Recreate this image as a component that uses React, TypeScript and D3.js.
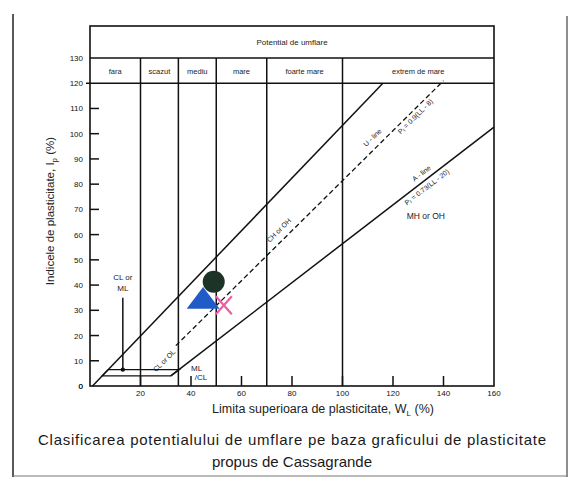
import React from "react";
import * as d3 from "d3";

const xTicks = [0, 20, 40, 60, 80, 100, 120, 140, 160];
const yTicks = [0, 10, 20, 30, 40, 50, 60, 70, 80, 90, 100, 110, 120, 130];
const classBounds = [0, 20, 35, 50, 70, 100, 160];
const classLabels = ["fara", "scazut", "mediu", "mare", "foarte mare", "extrem de mare"];
const headerTitle = "Potential de umflare";

const upperLine: [number, number][] = [[1, 0], [116, 120]];
const uLine: [number, number][] = [[34, 16], [140, 121]];
const aLine: [number, number][] = [[32, 4], [160, 102.6]];
const clmlZone: [number, number][] = [[4.8, 4], [32, 4], [35.3, 6.5], [7.2, 6.5]];

const sampleLL = [44.8, 49, 53];
const samplePI = [33.5, 41.3, 32];
const sampleShape = ["triangle", "circle", "cross"];

const clmlPoint: [number, number] = [13, 6.5];
const clmlLabelTop = 35;

const W = 575;
const H = 477;
const FONT = "'Liberation Sans', Arial, sans-serif";

export default function App() {
  const x = d3.scaleLinear().domain([0, 160]).range([90, 494]);
  const y = d3.scaleLinear().domain([0, 130]).range([386, 58]);
  const headerTop = 26;
  const line = d3
    .line<[number, number]>()
    .x((d) => x(d[0]))
    .y((d) => y(d[1]));

  const along = (ln: [number, number][], t: number, off: number) => {
    const x0 = x(ln[0][0]), y0 = y(ln[0][1]);
    const x1 = x(ln[1][0]), y1 = y(ln[1][1]);
    const dx = x1 - x0, dy = y1 - y0;
    const len = Math.hypot(dx, dy);
    const nx = dy / len, ny = -dx / len;
    const px = x0 + dx * t - nx * off;
    const py = y0 + dy * t - ny * off;
    const ang = (Math.atan2(dy, dx) * 180) / Math.PI;
    return { px, py, ang };
  };

  const rotText = (ln: [number, number][], t: number, off: number, txt: React.ReactNode, size = 7) => {
    const p = along(ln, t, off);
    return (
      <text
        x={0}
        y={0}
        transform={`translate(${p.px},${p.py}) rotate(${p.ang})`}
        textAnchor="middle"
        dominantBaseline="middle"
        fontSize={size}
        fontFamily={FONT}
        fill="#222"
      >
        {txt}
      </text>
    );
  };

  const x0 = x(0), x160 = x(160), yb = y(0);

  return (
    <svg
      width={W}
      height={H}
      style={{ position: "absolute", left: 0, top: 0, background: "#fff" }}
    >
      <rect width={W} height={H} fill="#fff" />
      {/* outer frame */}
      <line x1={13} y1={14} x2={13} y2={477} stroke="#222" strokeWidth={1.5} />
      <line x1={567} y1={16} x2={567} y2={477} stroke="#444" strokeWidth={1.2} />
      <line x1={13} y1={476} x2={567} y2={476} stroke="#777" strokeWidth={1} />

      {/* header box */}
      <rect x={x0} y={headerTop} width={x160 - x0} height={yb - headerTop} fill="none" stroke="#111" strokeWidth={1.6} />
      <line x1={x0} x2={x160} y1={y(130)} y2={y(130)} stroke="#111" strokeWidth={1.6} />
      <line x1={x0 - 4} x2={x160} y1={y(120)} y2={y(120)} stroke="#111" strokeWidth={1.6} />
      <text x={(x0 + x160) / 2} y={(headerTop + y(130)) / 2 + 3} textAnchor="middle" fontSize={8} fontFamily={FONT} fill="#222">
        {headerTitle}
      </text>
      {classBounds.slice(1, -1).map((b) => (
        <line key={b} x1={x(b)} x2={x(b)} y1={y(130)} y2={yb} stroke="#111" strokeWidth={1.5} />
      ))}
      {classLabels.map((lab, i) => (
        <text
          key={lab}
          x={(x(classBounds[i]) + x(classBounds[i + 1])) / 2}
          y={(y(130) + y(120)) / 2 + 3}
          textAnchor="middle"
          fontSize={7.5}
          fontFamily={FONT}
          fill="#222"
        >
          {lab}
        </text>
      ))}

      {/* y ticks */}
      {yTicks.filter((v) => v > 0 && v < 120).map((v) => (
        <line key={v} x1={x0} x2={x0 + 9} y1={y(v)} y2={y(v)} stroke="#111" strokeWidth={1.5} />
      ))}
      {yTicks.map((v) => (
        <text key={v} x={x0 - 7} y={y(v) + 3} textAnchor="end" fontSize={8} fontFamily={FONT} fill="#111">
          {v}
        </text>
      ))}
      {/* x ticks */}
      {xTicks.filter((v) => v > 0 && v < 160).map((v) => (
        <line key={v} x1={x(v)} x2={x(v)} y1={yb} y2={yb - 10} stroke="#111" strokeWidth={1.5} />
      ))}
      {xTicks.map((v) => (
        <text key={v} x={v === 0 ? x0 - 7 : x(v)} y={v === 0 ? yb + 3 : yb + 10} textAnchor={v === 0 ? "end" : "middle"} fontSize={8} fontFamily={FONT} fill="#111">
          {v}
        </text>
      ))}

      {/* classification lines */}
      <path d={line(upperLine) || ""} fill="none" stroke="#111" strokeWidth={1.5} />
      <path d={line(uLine) || ""} fill="none" stroke="#111" strokeWidth={1.3} strokeDasharray="5,3" />
      <path d={line(aLine) || ""} fill="none" stroke="#111" strokeWidth={1.5} />
      <path d={(line(clmlZone) || "") + "Z"} fill="none" stroke="#111" strokeWidth={1.3} />

      {/* line labels */}
      {rotText(uLine, 0.76, -9, "U - line")}
      {rotText(uLine, 0.88, 6, <tspan>P<tspan fontSize={5} dy={2}>I</tspan><tspan dy={-2}> = 0.9(LL - 8)</tspan></tspan>)}
      {rotText(aLine, 0.79, -7, "A - line")}
      {rotText(aLine, 0.78, 7, <tspan>P<tspan fontSize={5} dy={2}>I</tspan><tspan dy={-2}> = 0.73(LL - 20)</tspan></tspan>)}
      {rotText(uLine, 0.41, -9, "CH or OH")}
      {rotText(uLine, -0.05, 3, "CL or OL")}
      <text x={x(133)} y={y(66)} textAnchor="middle" fontSize={8.5} fontFamily={FONT} fill="#222">MH or OH</text>

      {/* CL or ML pointer */}
      <line x1={x(clmlPoint[0])} x2={x(clmlPoint[0])} y1={y(clmlLabelTop)} y2={y(clmlPoint[1])} stroke="#111" strokeWidth={1.5} />
      <circle cx={x(clmlPoint[0])} cy={y(clmlPoint[1])} r={2.2} fill="#111" />
      <text x={x(clmlPoint[0])} y={y(clmlLabelTop) - 18} textAnchor="middle" fontSize={8} fontFamily={FONT} fill="#222">CL or</text>
      <text x={x(clmlPoint[0])} y={y(clmlLabelTop) - 7} textAnchor="middle" fontSize={8} fontFamily={FONT} fill="#222">ML</text>
      <text x={x(40)} y={y(6)} textAnchor="start" fontSize={8} fontFamily={FONT} fill="#222">ML</text>
      <text x={x(41.5)} y={y(2.5)} textAnchor="start" fontSize={8} fontFamily={FONT} fill="#222">/CL</text>

      {/* samples */}
      {sampleShape.map((s, i) => {
        const cx = x(sampleLL[i]);
        const cy = y(samplePI[i]);
        if (s === "triangle") {
          const path = d3.symbol(d3.symbolTriangle, 300)();
          return <path key={i} d={path || ""} transform={`translate(${cx},${cy}) scale(1.25,0.95)`} fill="#1f5cc8" />;
        }
        if (s === "circle") {
          return <circle key={i} cx={cx} cy={cy} r={11} fill="#1d3328" />;
        }
        return (
          <g key={i} stroke="#ea5fa0" strokeWidth={2.2}>
            <line x1={cx - 8} y1={cy - 9} x2={cx + 8} y2={cy + 9} />
            <line x1={cx + 8} y1={cy - 9} x2={cx - 8} y2={cy + 9} />
          </g>
        );
      })}

      {/* axis titles */}
      <text
        transform={`translate(54,211) rotate(-90)`}
        textAnchor="middle"
        fontSize={11.5}
        fontFamily={FONT}
        fill="#222"
      >
        Indicele de plasticitate, I<tspan fontSize={8} dy={3}>p</tspan><tspan dy={-3}> (%)</tspan>
      </text>
      <text x={323} y={413} textAnchor="middle" fontSize={12.5} fontFamily={FONT} fill="#222">
        Limita superioara de plasticitate, W<tspan fontSize={8} dy={3}>L</tspan><tspan dy={-3}> (%)</tspan>
      </text>
      <text x={292} y={445} textAnchor="middle" fontSize={15} fontFamily={FONT} fill="#1a1a1a" textLength={508} lengthAdjust="spacing">
        Clasificarea potentialului de umflare pe baza graficului de plasticitate
      </text>
      <text x={292} y={467} textAnchor="middle" fontSize={15} fontFamily={FONT} fill="#1a1a1a">
        propus de Cassagrande
      </text>
    </svg>
  );
}
